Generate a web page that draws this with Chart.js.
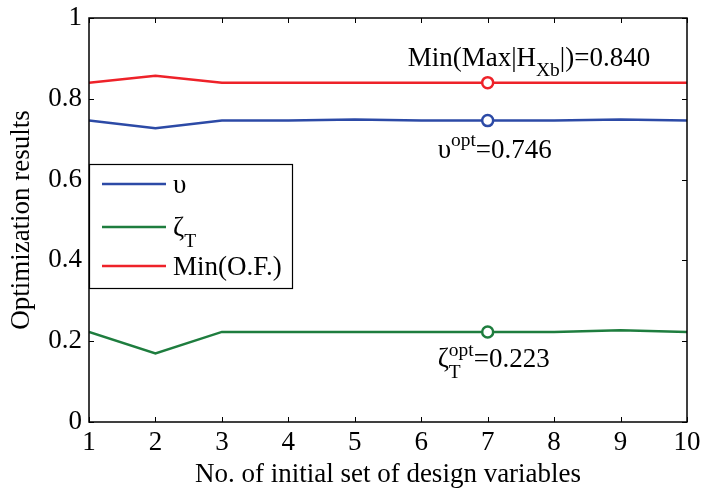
<!DOCTYPE html>
<html>
<head>
<meta charset="utf-8">
<script src="https://cdn.jsdelivr.net/npm/chart.js@4/dist/chart.umd.min.js"></script>
<style>
  html, body { margin:0; padding:0; background:#fff; }
  #wrap { width:701px; height:491px; }
</style>
</head>
<body>
<div id="wrap"><canvas id="cv" width="701" height="491"></canvas></div>
<script>
// ==== データ ====
const runs      = [1, 2, 3, 4, 5, 6, 7, 8, 9, 10];
const upsilon   = [0.746, 0.727, 0.746, 0.746, 0.749, 0.746, 0.746, 0.746, 0.749, 0.746];
const zetaT     = [0.223, 0.170, 0.223, 0.223, 0.223, 0.223, 0.223, 0.223, 0.227, 0.223];
const minOF     = [0.840, 0.857, 0.840, 0.840, 0.840, 0.840, 0.840, 0.840, 0.840, 0.840];
const OPT_RUN   = 7;
const xTicks    = [1, 2, 3, 4, 5, 6, 7, 8, 9, 10];
const yTicks    = [0, 0.2, 0.4, 0.6, 0.8, 1];

const FONT  = '"Liberation Serif", "Times New Roman", serif';
const FS    = 27;
const BLUE  = '#2c4aa6';
const GREEN = '#1e7d3e';
const RED   = '#ee2229';

const pts = (arr) => arr.map((v, i) => ({ x: runs[i], y: v }));
const markerR = runs.map(r => r === OPT_RUN ? 5.5 : 0);

// 上付き・下付きを含む文字列描画（戻り値は終端x）
function richText(ctx, x, y, parts, size) {
  for (const [t, mode] of parts) {
    let fs = size, dy = 0;
    if (mode === 'sub') { fs = size * 0.72; dy = size * 0.4; }
    if (mode === 'sup') { fs = size * 0.72; dy = -size * 0.42; }
    ctx.font = `${fs}px ${FONT}`;
    ctx.fillText(t, x, y + dy);
    x += ctx.measureText(t).width;
  }
  return x;
}

/* ===== 枠・内向き目盛り ===== */
const boxPlugin = {
  id: 'box',
  afterDatasetsDraw(c) {
    const { ctx, chartArea: a, scales } = c;
    ctx.save();
    ctx.strokeStyle = '#000';
    ctx.lineWidth = 1.5;
    ctx.strokeRect(a.left, a.top, a.right - a.left, a.bottom - a.top);
    ctx.lineWidth = 1;
    const L = 5;
    ctx.beginPath();
    xTicks.forEach(v => {
      const px = Math.round(scales.x.getPixelForValue(v)) + 0.5;
      ctx.moveTo(px, a.bottom); ctx.lineTo(px, a.bottom - L);
      ctx.moveTo(px, a.top);    ctx.lineTo(px, a.top + L);
    });
    yTicks.forEach(v => {
      const py = Math.round(scales.y.getPixelForValue(v)) + 0.5;
      ctx.moveTo(a.left, py);  ctx.lineTo(a.left + L, py);
      ctx.moveTo(a.right, py); ctx.lineTo(a.right - L, py);
    });
    ctx.stroke();
    ctx.restore();
  }
};

/* ===== 注記と凡例 ===== */
const notePlugin = {
  id: 'notes',
  afterDraw(c) {
    const { ctx, scales } = c;
    const x7 = scales.x.getPixelForValue(OPT_RUN);
    const i = OPT_RUN - 1;
    ctx.save();
    ctx.fillStyle = '#000';
    ctx.textBaseline = 'alphabetic';
    ctx.textAlign = 'left';

    // 最適値ラベル
    richText(ctx, x7 - 80, scales.y.getPixelForValue(minOF[i]) - 17,
      [['Min(Max|H', ''], ['Xb', 'sub'], ['|)=0.840', '']], FS);
    richText(ctx, x7 - 50, scales.y.getPixelForValue(upsilon[i]) + 37,
      [['\u03c5', ''], ['opt', 'sup'], ['=0.746', '']], FS);

    // ζ_T^opt : 添字を重ねる
    const zy = scales.y.getPixelForValue(zetaT[i]) + 35;
    const zx = richText(ctx, x7 - 50, zy, [['\u03b6', '']], FS);
    richText(ctx, zx, zy, [['T', 'sub']], FS);
    const ox = richText(ctx, zx, zy, [['opt', 'sup']], FS);
    richText(ctx, ox, zy, [['=0.223', '']], FS);

    // 凡例
    const bx = 89, by = 164, bw = 203, bh = 124;
    ctx.fillStyle = '#fff';
    ctx.fillRect(bx, by, bw, bh);
    ctx.strokeStyle = '#000';
    ctx.lineWidth = 1.2;
    ctx.strokeRect(bx + 0.5, by + 0.5, bw, bh);
    const rows = [
      { color: BLUE,  y: 184, parts: [['\u03c5', '']] },
      { color: GREEN, y: 227, parts: [['\u03b6', ''], ['T', 'sub']] },
      { color: RED,   y: 266, parts: [['Min(O.F.)', '']] }
    ];
    rows.forEach(r => {
      ctx.strokeStyle = r.color;
      ctx.lineWidth = 2.5;
      ctx.beginPath();
      ctx.moveTo(102, r.y); ctx.lineTo(166, r.y);
      ctx.stroke();
      ctx.fillStyle = '#000';
      richText(ctx, 173, r.y + 9, r.parts, FS);
    });
    ctx.restore();
  }
};

const ds = (label, data, color) => ({
  label, data: pts(data),
  borderColor: color, borderWidth: 2.5,
  pointRadius: markerR, pointHoverRadius: markerR,
  pointBorderColor: color, pointBackgroundColor: '#fff', pointBorderWidth: 2.5,
  tension: 0, fill: false
});

new Chart(document.getElementById('cv').getContext('2d'), {
  type: 'line',
  data: {
    datasets: [
      ds('\u03c5', upsilon, BLUE),
      ds('\u03b6T', zetaT, GREEN),
      ds('Min(O.F.)', minOF, RED)
    ]
  },
  options: {
    responsive: false,
    animation: false,
    events: [],
    layout: { padding: { top: 18, right: 14, left: 0, bottom: 0 } },
    scales: {
      x: {
        type: 'linear', min: 1, max: 10,
        afterBuildTicks: (s) => { s.ticks = xTicks.map(v => ({ value: v })); },
        afterFit: (s) => { s.height = 69; s.paddingLeft = 0; s.paddingRight = 0; },
        grid: { display: false, drawTicks: false },
        border: { display: false },
        ticks: { color: '#000', font: { family: FONT, size: FS }, padding: 5, maxRotation: 0,
                 callback: (v) => String(v) },
        title: { display: true, text: 'No. of initial set of design variables', color: '#000',
                 font: { family: FONT, size: FS }, padding: { top: 0, bottom: 0 } }
      },
      y: {
        min: 0, max: 1,
        afterBuildTicks: (s) => { s.ticks = yTicks.map(v => ({ value: v })); },
        afterFit: (s) => { s.width = 89; s.paddingTop = 0; s.paddingBottom = 0; },
        grid: { display: false, drawTicks: false },
        border: { display: false },
        ticks: { color: '#000', font: { family: FONT, size: FS }, padding: 7,
                 callback: (v) => String(v) },
        title: { display: true, text: 'Optimization results', color: '#000',
                 font: { family: FONT, size: FS }, padding: { top: 6, bottom: 0 } }
      }
    },
    plugins: { legend: { display: false }, tooltip: { enabled: false } }
  },
  plugins: [boxPlugin, notePlugin]
});
</script>
</body>
</html>
